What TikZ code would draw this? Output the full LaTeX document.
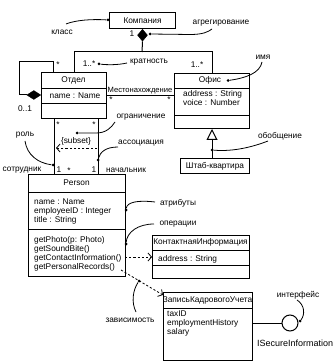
\documentclass[tikz,border=0pt]{standalone}
\usepackage{fontspec}
\setmainfont{Liberation Sans}
\usetikzlibrary{arrows.meta,shapes.geometric}
\begin{document}
\begin{tikzpicture}[x=1pt,y=-1pt,
  font=\fontsize{8.3}{9}\selectfont,
  cls/.style={draw, line width=1pt, inner sep=0, anchor=north west},
  txt/.style={inner sep=0, anchor=center},
  ltxt/.style={inner sep=0, anchor=base west},
  dotm/.style={circle, fill, inner sep=0, minimum size=3pt},
  conn/.style={line width=1pt},
  note/.style={line width=0.8pt},
  div/.style={line width=0.8pt},
  dep/.style={line width=0.8pt, dash pattern=on 2.2pt off 2pt, -{Straight Barb[length=3.5pt,width=8pt]}},
]
\useasboundingbox (0,0) rectangle (336,363);

% ---------- classes ----------
\node[cls, minimum width=66, minimum height=16] (komp) at (109,12) {};
\node[txt] (kompt) at (komp.center) {Компания};

\node[cls, minimum width=65, minimum height=46] (otdel) at (41,72) {};
\draw[div] (41,88) -- (106,88) (41,103) -- (106,103);
\node[txt] (otdelt) at (73.5,80) {Отдел};
\node[txt] (otdela) at (75,95.5) {name : Name};

\node[cls, minimum width=75, minimum height=55] (ofis) at (174,73) {};
\draw[div] (174,88) -- (249,88) (174,115) -- (249,115);
\node[txt] (ofist) at (210,80.5) {Офис};
\node[ltxt] (ofisa1) at (183,97) {address : String};
\node[ltxt] (ofisa2) at (183,106) {voice : Number};

\node[cls, minimum width=69, minimum height=15] (shtab) at (180,158) {};
\node[txt] (shtabt) at (shtab.center) {Штаб-квартира};

\node[cls, minimum width=97, minimum height=102] (person) at (28,174) {};
\draw[div] (28,192) -- (125,192) (28,229) -- (125,229);
\node[txt] (persont) at (76.5,183) {Person};
\node[ltxt] (pa1) at (34,204) {name : Name};
\node[ltxt] (pa2) at (34,213) {employeeID : Integer};
\node[ltxt] (pa3) at (34,222) {title : String};
\node[ltxt] (po1) at (34,242) {getPhoto(p: Photo)};
\node[ltxt] (po2) at (34,251) {getSoundBite()};
\node[ltxt] (po3) at (34,260) {getContactInformation()};
\node[ltxt] (po4) at (34,269) {getPersonalRecords()};

\node[cls, minimum width=97, minimum height=43] (kont) at (152,235) {};
\draw[div] (152,250) -- (249,250) (152,265) -- (249,265);
\node[txt] (kontt) at (200.5,242.5) {КонтактнаяИнформация};
\node[ltxt] (konta) at (158,261) {address : String};

\node[cls, minimum width=89, minimum height=68] (zap) at (163,292) {};
\draw[div] (163,308) -- (252,308);
\node[txt] (zapt) at (207.5,300) {ЗаписьКадровогоУчета};
\node[ltxt] (za1) at (167,316) {taxID};
\node[ltxt] (za2) at (167,325) {employmentHistory};
\node[ltxt] (za3) at (167,334) {salary};

\node[draw, circle, line width=1pt, minimum size=16pt, inner sep=0] (iface) at (290,323) {};
\node[inner sep=0, anchor=west, font=\fontsize{9}{10}\selectfont] (ifacet) at (257,343) {ISecureInformation};

% ---------- aggregation from Компания ----------
\node[draw, fill, diamond, inner sep=0, minimum width=10pt, minimum height=12pt, anchor=north] (aggd) at (komp.south) {};
\coordinate (jm) at (142,52);
\coordinate (jl) at (74,52);
\coordinate (jr) at (212,52);
\draw[conn] (aggd.south) -- (jm);
\draw[conn] (otdel.north -| jl) -- (jl) -- (jr) -- (ofis.north -| jr);
\node[txt] (m1) at (132,34) {1};
\node[txt] (m2) at (89,64) {1..*};
\node[txt] (m3) at (197,65) {1..*};

% ---------- self association of Отдел ----------
\coordinate (sl1) at (19,95);
\coordinate (sl2) at (19,62);
\coordinate (sl3) at (53,62);
\node[draw, fill, diamond, inner sep=0, minimum width=14pt, minimum height=9pt, anchor=east] (selfd) at (otdel.west |- sl1) {};
\draw[conn] (selfd.west) -- (sl1) -- (sl2) -- (sl3) -- (otdel.north -| sl3);
\node[txt] (m4) at (58,65) {*};
\node[txt] (m5) at (25,109) {0..1};

% ---------- Местонахождение ----------
\draw[conn] (otdel.east) -- (otdel.east -| ofis.west);
\node[inner sep=0, anchor=base, font=\fontsize{7.6}{9}\selectfont] (mesto) at (140,93) {Местонахождение};
\node[txt] (m6) at (111,100) {*};
\node[txt] (m7) at (169,100) {*};

% ---------- generalization ----------
\draw[conn, -{Triangle[open, length=11pt, width=11pt]}] (shtab.north -| ofis.south) -- (ofis.south);

% ---------- Отдел -- Person ----------
\coordinate (xl) at (54,0);
\coordinate (xr) at (98,0);
\draw[conn] (otdel.south -| xl) -- (person.north -| xl);
\draw[conn] (otdel.south -| xr) -- (person.north -| xr);
\node[txt] (m8) at (58,125) {*};
\node[txt] (m9) at (94,125) {*};
\node[txt] (subs) at (76,141) {\{subset\}};
\coordinate (s1) at (97,148);
\coordinate (s2) at (56,148);
\draw[dep] (s1) -- (s2);
\node[txt] (sotr) at (22,170) {сотрудник};
\node[txt] (m10) at (59,170) {1};
\node[txt] (m11) at (69,171) {*};
\node[txt] (m12) at (94,170) {1};
\node[txt] (nach) at (126,170) {начальник};

% ---------- dependencies ----------
\coordinate (c1) at (125,257);
\draw[dep] (c1) -- (kont.west |- c1);
\coordinate (d1) at (121,270);
\coordinate (d2) at (163,295);
\draw[dep] (d1) -- (d2);

% ---------- interface ----------
\draw[conn] (zap.east |- iface) -- (iface.west);

% ---------- annotations ----------
\node[txt] (lklass) at (62,32) {класс};
\node[dotm] (dklass) at (108,20) {};
\coordinate (k1) at (66,24);
\draw[note] (k1) .. controls (76,20) and (92,19) .. (dklass);

\node[txt] (lagg) at (221,23) {агрегирование};
\node[dotm] (dagg) at (150,34) {};
\coordinate (a1) at (212,29);
\coordinate (a2) at (190,34.5);
\draw[note] (dagg) -- (a2) .. controls (203,34.5) and (208,32) .. (a1);

\node[txt] (lkrat) at (149,62) {кратность};
\node[dotm] (dkrat) at (99,64) {};
\coordinate (kr1) at (127,63);
\draw[note] (kr1) .. controls (118,65) and (108,65) .. (dkrat);

\node[txt] (limya) at (263,57) {имя};
\node[dotm] (dimya) at (228,80.5) {};
\coordinate (i1) at (262,62);
\draw[note] (i1) .. controls (260,73) and (246,78) .. (dimya);

\node[txt] (logr) at (141,117) {ограничение};
\node[dotm] (dogr) at (77,133) {};
\coordinate (o1) at (96,133);
\coordinate (o2) at (115,122);
\draw[note] (dogr) -- (o1) .. controls (106,133) and (111,128) .. (o2);

\node[txt] (lass) at (141,143) {ассоциация};
\node[dotm] (dass) at (98,160) {};
\coordinate (as1) at (118,147);
\draw[note] (as1) .. controls (106,147) and (100,152) .. (dass);

\node[txt] (lrol) at (25,135) {роль};
\node[dotm] (drol) at (53,165) {};
\coordinate (r1) at (25,141);
\draw[note] (r1) .. controls (27,155) and (38,163) .. (drol);

\node[txt] (lobob) at (280,136) {обобщение};
\node[dotm] (dobob) at (212,150) {};
\coordinate (ob1) at (268,141);
\draw[note] (dobob) .. controls (235,152) and (255,146) .. (ob1);

\node[txt] (latr) at (178,203) {атрибуты};
\node[dotm] (datr) at (126,210) {};
\coordinate (at1) at (155,202);
\draw[note] (datr) .. controls (127,202) and (138,200) .. (at1);

\node[txt] (lop) at (178,224) {операции};
\node[dotm] (dop) at (126,244) {};
\coordinate (op1) at (154,224);
\draw[note] (dop) .. controls (127,232) and (138,224) .. (op1);

\node[txt] (lzav) at (130,320) {зависимость};
\node[dotm] (dzav) at (139,281) {};
\coordinate (z1) at (136,312);
\draw[note] (z1) .. controls (131,302) and (133,290) .. (dzav);

\node[txt] (lint) at (298,295) {интерфейс};
\node[dotm] (dint) at (300,321) {};
\coordinate (in1) at (297,300);
\draw[note] (in1) .. controls (305,305) and (305,315) .. (dint);
\end{tikzpicture}
\end{document}
